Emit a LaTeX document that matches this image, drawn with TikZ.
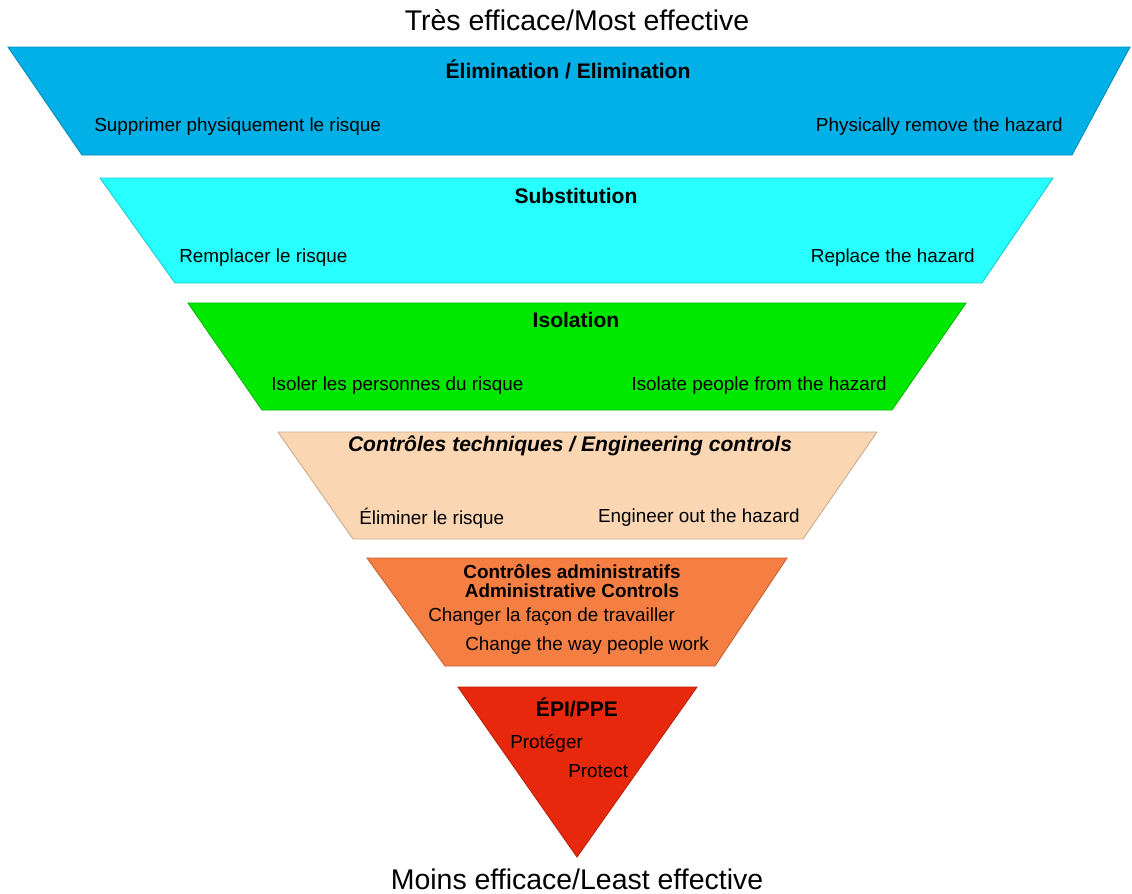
\documentclass[tikz,border=0pt]{standalone}
\usepackage{fontspec}
\setmainfont{Liberation Sans}
\usepackage{tikz}

\definecolor{elimblue}{RGB}{0,176,230}
\definecolor{substcyan}{RGB}{40,255,255}
\definecolor{isolgreen}{RGB}{0,232,0}
\definecolor{engpeach}{RGB}{251,214,178}
\definecolor{admorange}{RGB}{245,126,66}
\definecolor{ppered}{RGB}{232,40,12}

\tikzset{
  band/.style={fill=#1, draw=#1!80!black, line width=0.5pt},
  side/.style={font=\fontsize{10.75}{13}\selectfont, inner sep=0pt},
  title/.style={font=\fontsize{12}{14}\selectfont\bfseries, inner sep=0pt},
  scale label/.style={font=\fontsize{16.2}{19}\selectfont, inner sep=0pt}
}

\begin{document}
\begin{tikzpicture}[x=0.02cm, y=-0.02cm]
    \useasboundingbox (0,0) rectangle (1132,893);
    % the levels, widest first
    \filldraw[band=elimblue] (8,47) -- (1130,47) -- (1072,155) -- (82,155) -- cycle;
    \filldraw[band=substcyan] (100,178) -- (1053,178) -- (982,283) -- (175,283) -- cycle;
    \filldraw[band=isolgreen] (188,303) -- (966,303) -- (892,410) -- (262,410) -- cycle;
    \filldraw[band=engpeach] (278,432) -- (877,432) -- (803,539) -- (353,539) -- cycle;
    \filldraw[band=admorange] (367,558) -- (787,558) -- (715,666) -- (445,666) -- cycle;
    \filldraw[band=ppered] (458,687) -- (697,687) -- (577,857) -- cycle;

    \node[scale label] (most) at (577,20) {Très efficace/Most effective};
    \node[scale label] (least) at (577,879) {Moins efficace/Least effective};

    \node[title] (elim) at (568,69) {Élimination / Elimination};
    \node[side, anchor=west] (elimfr) at (94,127) {Supprimer physiquement le risque};
    \node[side, anchor=east] (elimen) at (1063,127) {Physically remove the hazard};

    \node[title] (subst) at (576,196) {Substitution};
    \node[side, anchor=west] (substfr) at (179,258) {Remplacer le risque};
    \node[side, anchor=east] (substen) at (975,258) {Replace the hazard};

    \node[title] (isol) at (576,320) {Isolation};
    \node[side, anchor=west] (isolfr) at (271,386) {Isoler les personnes du risque};
    \node[side, anchor=east] (isolen) at (887,386) {Isolate people from the hazard};

    \node[title, font=\fontsize{12}{14}\selectfont\bfseries\itshape] (eng) at (570,446) {Contrôles techniques / Engineering controls};
    \node[side, anchor=west] (engfr) at (359,518) {Éliminer le risque};
    \node[side, anchor=east] (engen) at (800,518) {Engineer out the hazard};

    \node[title, align=center, font=\fontsize{10.75}{11}\selectfont\bfseries] (adm) at (572,581) {Contrôles administratifs\\Administrative Controls};
    \node[side, anchor=west] (admfr) at (428,617) {Changer la façon de travailler};
    \node[side, anchor=west] (admen) at (465,646) {Change the way people work};

    \node[title] (ppe) at (577,707) {ÉPI/PPE};
    \node[side, anchor=west] (ppefr) at (510,743) {Protéger};
    \node[side, anchor=west] (ppeen) at (568,771) {Protect};
\end{tikzpicture}
\end{document}
